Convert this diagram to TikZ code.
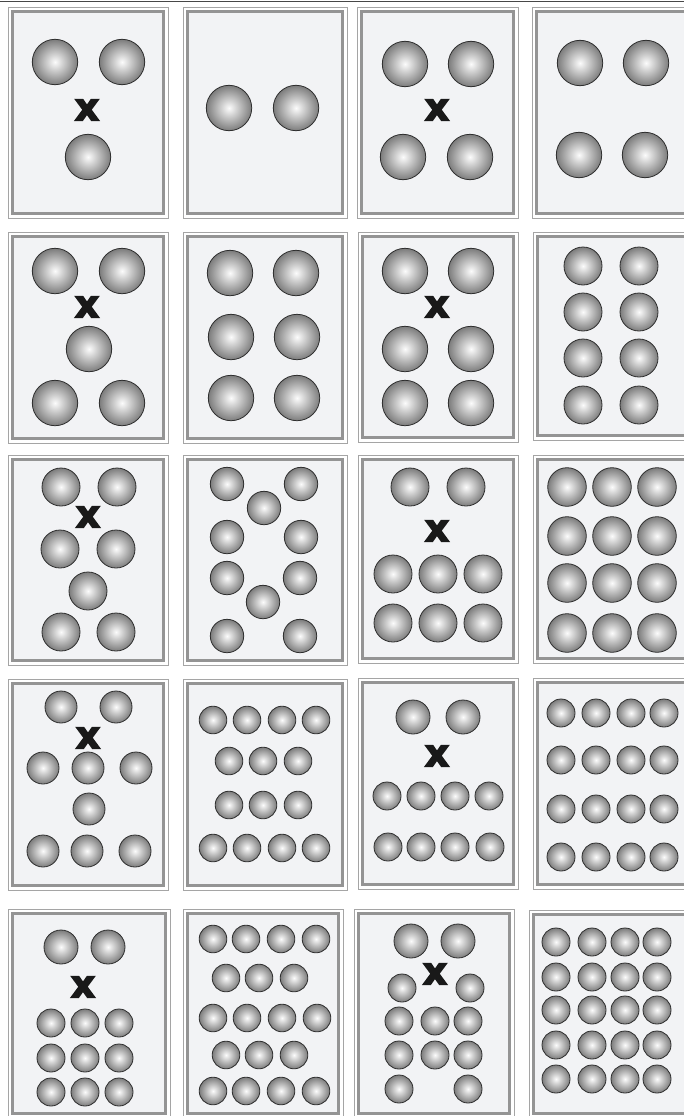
\documentclass[tikz,border=0pt]{standalone}
\usepackage{fontspec}
\newfontfamily\xfont{DejaVu Sans}[BoldFeatures={FakeBold=4}]
\definecolor{cardfill}{RGB}{242,243,245}
\definecolor{cardline}{RGB}{165,165,165}
\definecolor{cardthick}{RGB}{148,148,148}
\definecolor{ballc0}{RGB}{252,252,252}
\definecolor{ballc1}{RGB}{234,234,234}
\definecolor{ballc2}{RGB}{124,124,124}
\pgfdeclareradialshading{sph}{\pgfpoint{0bp}{0bp}}{color(0bp)=(ballc0); color(3.5bp)=(ballc1); color(25bp)=(ballc2); color(50bp)=(ballc2)}
\tikzset{
  cardout/.style={draw=cardline, line width=0.9pt},
  cardin/.style={draw=cardthick, fill=cardfill, line width=3.2pt},
  ball/.style={circle, draw=black!82, line width=0.8pt, inner sep=0pt, shade, shading=sph, minimum size=2*#1},
  xmark/.style={inner sep=0pt, text=black!90, font=\xfont\bfseries\fontsize{38}{38}\selectfont}
}
\newcommand\mycard[5]{%
  \draw[cardout] (#1,#2) rectangle (#3,#4);
  \draw[cardin] (#1+4.3,#2+4.3) rectangle (#3-4.3,#4-4.3) coordinate (#5);
}
\begin{document}
\begin{tikzpicture}[x=1pt,y=-1pt]
\useasboundingbox (0,0) rectangle (684,1116);
\fill[white] (0,0) rectangle (684,1116);
\clip (0,0) rectangle (684,1116);
\draw[black!72, line width=1.3pt] (0,1.2) -- (684,1.2);
% cards
\mycard{8}{7}{168}{218}{k11}
\mycard{183}{7}{347}{218}{k12}
\mycard{357}{7}{518}{218}{k13}
\mycard{532}{7}{700}{218}{k14}
\mycard{8}{232}{168}{443}{k21}
\mycard{183}{232}{347}{443}{k22}
\mycard{358}{232}{518}{442}{k23}
\mycard{533}{232}{700}{440}{k24}
\mycard{8}{455}{168}{665}{k31}
\mycard{183}{455}{347}{665}{k32}
\mycard{358}{455}{518}{663}{k33}
\mycard{533}{455}{700}{663}{k34}
\mycard{8}{679}{168}{890}{k41}
\mycard{183}{679}{347}{890}{k42}
\mycard{358}{678}{518}{889}{k43}
\mycard{533}{678}{700}{889}{k44}
\mycard{8}{909}{170}{1118}{k51}
\mycard{183}{909}{343}{1118}{k52}
\mycard{354}{909}{514}{1118}{k53}
\mycard{529}{910}{700}{1118}{k54}
% row 1
\foreach \p [count=\i] in {(55,62),(122,62),(88,157)} \node[ball=22.7] (b11-\i) at \p {};
\node[xmark] (x11) at (87,110) {x};
\foreach \p [count=\i] in {(229,108),(296,108)} \node[ball=22.7] (b12-\i) at \p {};
\foreach \p [count=\i] in {(405,64),(471,64),(403,157),(470,157)} \node[ball=22.7] (b13-\i) at \p {};
\node[xmark] (x13) at (437,110) {x};
\foreach \p [count=\i] in {(580,63),(646,63),(579,155),(645,155)} \node[ball=22.7] (b14-\i) at \p {};
% row 2
\foreach \p [count=\i] in {(55,271),(122,271),(89,349),(55,403),(122,403)} \node[ball=22.7] (b21-\i) at \p {};
\node[xmark] (x21) at (87,307) {x};
\foreach \p [count=\i] in {(230,273),(296,273),(231,337),(297,337),(231,398),(297,398)} \node[ball=22.7] (b22-\i) at \p {};
\foreach \p [count=\i] in {(405,271),(471,271),(405,349),(471,349),(405,403),(471,403)} \node[ball=22.7] (b23-\i) at \p {};
\node[xmark] (x23) at (437,307) {x};
\foreach \xx in {583,639} \foreach \yy in {266,312,358,405} \node[ball=19] (b24-\xx-\yy) at (\xx,\yy) {};
% row 3
\foreach \p [count=\i] in {(61,487),(117,487),(60,549),(116,549),(88,591),(61,632),(116,632)} \node[ball=19] (b31-\i) at \p {};
\node[xmark] (x31) at (88,517) {x};
\foreach \p [count=\i] in {(227,484),(301,484),(264,508),(227,537),(301,537),(227,578),(300,578),(263,602),(227,636),(300,636)} \node[ball=16.7] (b32-\i) at \p {};
\foreach \p [count=\i] in {(410,487),(466,487),(393,574),(438,574),(483,574),(393,623),(438,623),(483,623)} \node[ball=19] (b33-\i) at \p {};
\node[xmark] (x33) at (437,531) {x};
\foreach \xx in {567,612,657} \foreach \yy in {487,536,583,633} \node[ball=19.3] (b34-\xx-\yy) at (\xx,\yy) {};
% row 4
\foreach \p [count=\i] in {(61,707),(116,707)} \node[ball=16] (b41t-\i) at \p {};
\node[xmark] (x41) at (88,738) {x};
\foreach \p [count=\i] in {(43,768),(88,768),(136,768),(89,809),(43,851),(87,851),(135,851)} \node[ball=16] (b41-\i) at \p {};
\foreach \p [count=\i] in {(213,720),(247,720),(282,720),(316,720),(229,761),(263,761),(298,761),(229,805),(263,805),(298,805),(213,848),(247,848),(282,848),(316,848)} \node[ball=13.8] (b42-\i) at \p {};
\foreach \p [count=\i] in {(413,717),(463,717)} \node[ball=17] (b43t-\i) at \p {};
\node[xmark] (x43) at (437,756) {x};
\foreach \p [count=\i] in {(387,796),(421,796),(455,796),(489,796),(388,847),(421,847),(455,847),(490,847)} \node[ball=14] (b43-\i) at \p {};
\foreach \xx in {561,596,631,664} \foreach \yy in {713,760,809,857} \node[ball=14] (b44-\xx-\yy) at (\xx,\yy) {};
% row 5
\foreach \p [count=\i] in {(61,947),(108,947)} \node[ball=17] (b51t-\i) at \p {};
\node[xmark] (x51) at (83,987) {x};
\foreach \xx in {51,85,119} \foreach \yy in {1023,1058,1092} \node[ball=14] (b51-\xx-\yy) at (\xx,\yy) {};
\foreach \p [count=\i] in {(213,939),(246,939),(281,939),(316,939),(226,978),(259,978),(294,978),(213,1018),(247,1018),(282,1018),(317,1018),(226,1055),(259,1055),(294,1055),(213,1091),(246,1091),(281,1091),(316,1091)} \node[ball=13.8] (b52-\i) at \p {};
\foreach \p [count=\i] in {(411,941),(458,941)} \node[ball=17] (b53t-\i) at \p {};
\node[xmark] (x53) at (435,974) {x};
\foreach \p [count=\i] in {(402,988),(470,988),(399,1021),(435,1021),(468,1021),(399,1055),(435,1055),(468,1055),(399,1089),(468,1089)} \node[ball=14] (b53-\i) at \p {};
\foreach \xx in {556,592,625,657} \foreach \yy in {942,977,1010,1045,1079} \node[ball=14] (b54-\xx-\yy) at (\xx,\yy) {};
\end{tikzpicture}
\end{document}
